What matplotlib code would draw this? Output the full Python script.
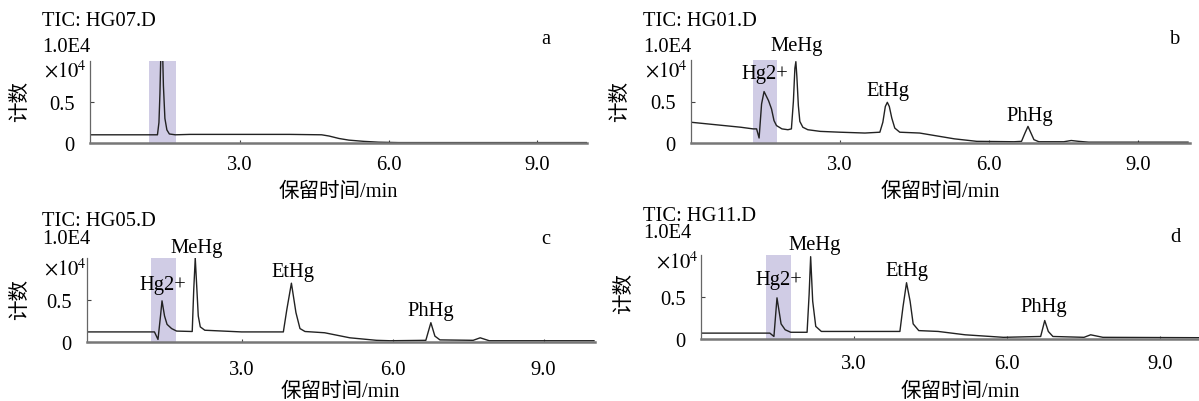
import numpy as np
import matplotlib.pyplot as plt

plt.rcParams['font.family'] = ['Liberation Serif', 'Noto Sans CJK SC']
plt.rcParams['mathtext.fontset'] = 'stix'

# 色谱数据 (保留时间 min, 计数 ×10^4)
a_t = [0, 0.5, 1.0, 1.34, 1.37, 1.39, 1.42, 1.44, 1.46, 1.49, 1.53, 1.58, 1.7, 2.0, 3.0, 4.0, 4.65,
       4.8, 5.0, 5.2, 5.5, 5.8, 6.2, 8.0, 10.0]
a_v = [0.10, 0.10, 0.10, 0.10, 0.25, 0.6, 1.4, 1.2, 0.7, 0.3, 0.16, 0.11, 0.10, 0.105, 0.105, 0.105, 0.10,
       0.085, 0.055, 0.035, 0.02, 0.01, 0.005, 0.005, 0.005]

b_t = [0, 0.5, 1.0, 1.25, 1.32, 1.37, 1.42, 1.47, 1.56, 1.62, 1.67, 1.72, 1.83, 1.95, 2.02, 2.06, 2.09,
       2.11, 2.13, 2.16, 2.19, 2.25, 2.35, 2.6, 3.0, 3.5, 3.8, 3.86, 3.91, 3.95, 3.99, 4.04, 4.1, 4.2,
       4.6, 4.9, 5.3, 5.75, 6.5, 6.65, 6.72, 6.78, 6.84, 6.9, 7.0, 7.5, 7.65, 7.8, 8.0, 10.0]
b_v = [0.25, 0.22, 0.19, 0.17, 0.17, 0.06, 0.47, 0.62, 0.51, 0.41, 0.27, 0.21, 0.17, 0.16, 0.17, 0.5, 0.9,
       0.98, 0.8, 0.45, 0.26, 0.19, 0.16, 0.14, 0.13, 0.12, 0.13, 0.25, 0.44, 0.49, 0.44, 0.3, 0.18, 0.13,
       0.12, 0.09, 0.05, 0.02, 0.015, 0.02, 0.12, 0.2, 0.12, 0.04, 0.015, 0.015, 0.03, 0.02, 0.01, 0.01]

c_t = [-0.07, 0.5, 1.0, 1.27, 1.34, 1.39, 1.42, 1.47, 1.52, 1.61, 1.71, 2.02, 2.05, 2.08, 2.14, 2.18,
       2.27, 3.0, 3.83, 3.90, 3.99, 4.08, 4.16, 4.26, 4.65, 5.15, 5.68, 5.95, 6.66, 6.76, 6.84, 6.94,
       7.6, 7.74, 7.92, 10.0]
c_v = [0.12, 0.12, 0.12, 0.12, 0.03, 0.31, 0.49, 0.31, 0.21, 0.16, 0.13, 0.125, 0.62, 1.0, 0.31, 0.18,
       0.14, 0.12, 0.12, 0.39, 0.70, 0.35, 0.16, 0.125, 0.11, 0.05, 0.02, 0.015, 0.02, 0.23, 0.07, 0.025,
       0.02, 0.05, 0.015, 0.015]

d_t = [0, 0.5, 1.0, 1.35, 1.43, 1.49, 1.57, 1.65, 1.76, 2.08, 2.12, 2.15, 2.19, 2.25, 2.36, 3.0, 3.90,
       3.96, 4.03, 4.10, 4.16, 4.27, 4.65, 5.18, 5.93, 6.66, 6.74, 6.81, 6.90, 7.51, 7.64, 7.88, 10.0]
d_v = [0.07, 0.07, 0.07, 0.07, 0.03, 0.49, 0.18, 0.11, 0.08, 0.08, 0.53, 0.98, 0.45, 0.15, 0.09, 0.09, 0.09,
       0.38, 0.67, 0.45, 0.18, 0.10, 0.09, 0.05, 0.02, 0.03, 0.22, 0.09, 0.03, 0.02, 0.05, 0.02, 0.015]

shades = [(1.17, 1.72), (1.24, 1.74), (1.21, 1.69), (1.28, 1.77)]
files = ['TIC: HG07.D', 'TIC: HG01.D', 'TIC: HG05.D', 'TIC: HG11.D']
letters = ['a', 'b', 'c', 'd']
peaks = ['Hg2+', 'MeHg', 'EtHg', 'PhHg']
xticks = [3, 6, 9]
xticklabels = ['3.0', '6.0', '9.0']
yticks = [0, 0.5]
yticklabels = ['0', '0.5']

W, H = 1199, 402
FS = 14.8
fig = plt.figure(figsize=(W / 100, H / 100), dpi=100)


def fx(x):
    return x / W


def fy(y):
    return 1 - y / H


# 布局 (像素)
layout = [
    dict(box=(90, 62, 587, 144), xlim=(-0.02, 10.0), tx=42, ty=22, ey=47, lx=546, ly=40,
         mx=44, my=72, yl=(21, 102), xl=(338, 192), pad=9, plab=None),
    dict(box=(691, 61, 1190, 144), xlim=(0, 10.04), tx=643, ty=22, ey=47, lx=1175, ly=40,
         mx=645, my=72, yl=(621, 102), xl=(940, 192), pad=9,
         plab=[(1.49, 0.835), (2.13, 1.17), (3.96, 0.63), (6.82, 0.33)]),
    dict(box=(87, 259, 595, 343), xlim=(-0.07, 10.02), tx=42, ty=222, ey=240, lx=546, ly=240,
         mx=44, my=270, yl=(21, 300), xl=(340, 392), pad=13,
         plab=[(1.43, 0.69), (2.11, 1.13), (4.02, 0.84), (6.76, 0.37)]),
    dict(box=(701, 256, 1211, 340), xlim=(0, 10.0), tx=643, ty=217, ey=234, lx=1175, ly=238,
         mx=656, my=263, yl=(625, 294), xl=(960, 392), pad=11,
         plab=[(1.53, 0.71), (2.22, 1.13), (4.04, 0.82), (6.72, 0.39)]),
]

series = [(a_t, a_v), (b_t, b_v), (c_t, c_v), (d_t, d_v)]

for i, (t, v) in enumerate(series):
    L = layout[i]
    x0, y0, x1, y1 = L['box']
    ax = fig.add_axes([fx(x0), fy(y1), (x1 - x0) / W, (y1 - y0) / H])
    ax.axvspan(shades[i][0], shades[i][1], color='#d0cce5', lw=0, zorder=0)
    ax.plot(t, v, color='#222222', lw=1.0)
    ax.set_xlim(*L['xlim'])
    ax.set_ylim(0, 1.0)
    for s in ['top', 'right']:
        ax.spines[s].set_visible(False)
    ax.spines['bottom'].set_color('#777777')
    ax.spines['bottom'].set_linewidth(1.8)
    ax.spines['left'].set_color('#666666')
    ax.spines['left'].set_linewidth(0.9)
    ax.set_xticks(xticks)
    ax.set_xticklabels(xticklabels)
    ax.set_yticks(yticks)
    ax.set_yticklabels(yticklabels)
    ax.tick_params(axis='x', direction='in', length=2.5, width=0.8, color='#444444',
                   labelsize=FS, pad=L['pad'])
    ax.tick_params(axis='y', direction='in', length=3, width=0.8, color='#444444',
                   labelsize=FS, pad=11)
    if L['plab'] is not None:
        for name, (px, py) in zip(peaks, L['plab']):
            ax.text(px, py, name, fontsize=FS, ha='center', va='center', clip_on=False)

    fig.text(fx(L['tx']), fy(L['ty']), files[i], fontsize=FS, ha='left', va='center')
    fig.text(fx(L['tx']), fy(L['ey']), '1.0E4', fontsize=FS, ha='left', va='center')
    fig.text(fx(L['lx']), fy(L['ly']), letters[i], fontsize=FS, ha='center', va='center')
    fig.text(fx(L['mx']), fy(L['my']), r'$\times 10^4$', fontsize=FS, ha='left', va='center')
    fig.text(fx(L['yl'][0]), fy(L['yl'][1]), '计数', fontsize=FS, rotation=90,
             ha='center', va='center')
    fig.text(fx(L['xl'][0]), fy(L['xl'][1]), '保留时间/min', fontsize=FS,
             ha='center', va='center')

fig.savefig('out.png', dpi=100)
